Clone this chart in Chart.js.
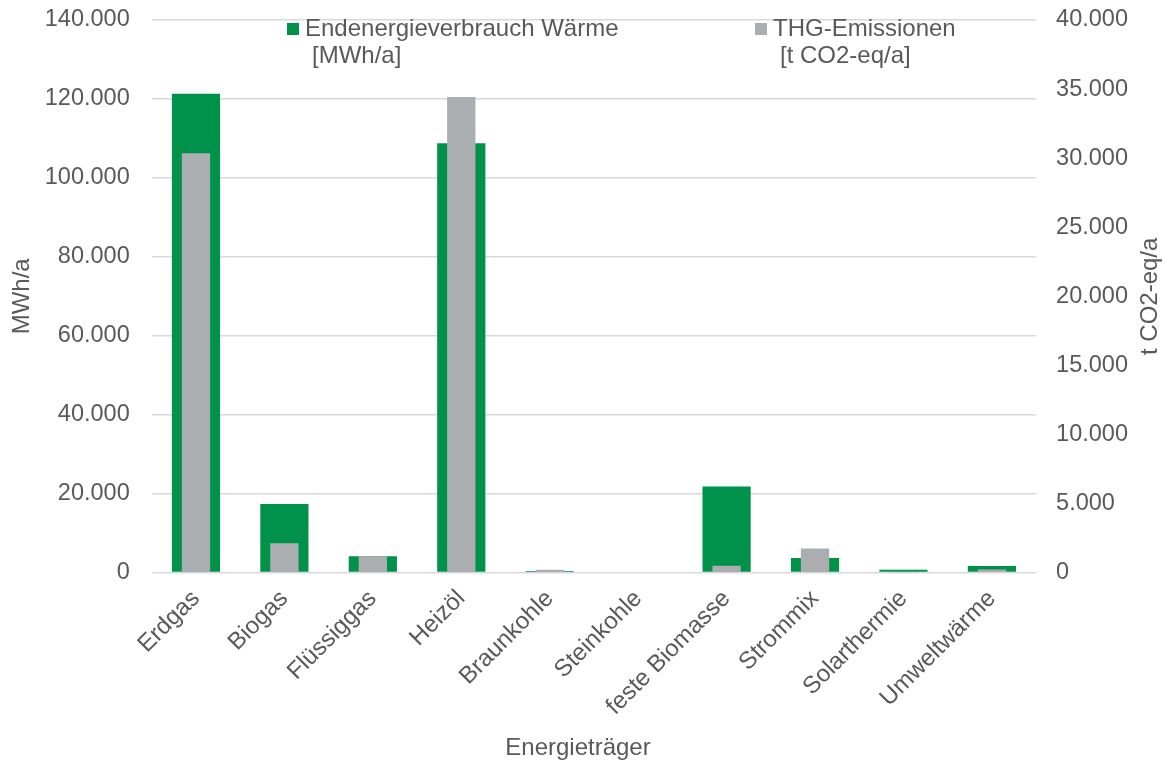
<!DOCTYPE html>
<html lang="de">
<head>
<meta charset="utf-8">
<title>Endenergieverbrauch Wärme und THG-Emissionen</title>
<script src="https://cdn.jsdelivr.net/npm/chart.js@4.4.1/dist/chart.umd.min.js"></script>
<style>
    html, body { margin: 0; padding: 0; background: #fff; }
    #wrap { width: 1169px; height: 762px; position: relative; }
</style>
</head>
<body>
<div id="wrap"><canvas id="chart"></canvas></div>
<script>
// Werte (links MWh/a, rechts t CO2-eq/a)
const categories = ['Erdgas', 'Biogas', 'Flüssiggas', 'Heizöl', 'Braunkohle', 'Steinkohle', 'feste Biomasse', 'Strommix', 'Solarthermie', 'Umweltwärme'];
const energyMWh = [121300, 17400, 4150, 108800, 400, 0, 21800, 3700, 750, 1700];
const emissionsT = [30350, 2120, 1180, 34420, 200, 0, 490, 1740, 10, 220];
const energyLegend = ['Endenergieverbrauch Wärme', '[MWh/a]'];
const emissionsLegend = ['THG-Emissionen', '[t CO2-eq/a]'];
const leftTicks = { max: 140000, step: 20000 };
const rightTicks = { max: 40000, step: 5000 };

const TEXT = '#595959';
const GRID = '#d9d9d9';
const GREEN = '#00914a';
const GREY = '#aaaeb1';
const FONT = 'Liberation Sans, Arial, sans-serif';

const fmt = (v) => Number(v).toLocaleString('de-DE');

// Chart.js reserves room for overhanging tick labels; Excel doesn't, so drop it.
const noOverhang = (scale) => {
    scale.paddingLeft = 0;
    scale.paddingRight = 0;
    scale.paddingTop = 0;
    scale.paddingBottom = 0;
};

// vertical scales count the tick padding twice in fit() - take one back
const tightY = (scale) => {
    noOverhang(scale);
    scale.width -= scale.options.ticks.padding;
};

// Legende wie in Excel: zwei Zeilen pro Eintrag, im Plotbereich oben.
// Dazu der rechte Achsentitel (von unten nach oben) und der x-Titel.
const excelExtras = {
    id: 'excelExtras',
    afterDraw(chart) {
        const ctx = chart.ctx;
        ctx.save();
        ctx.font = `24px ${FONT}`;
        ctx.fillStyle = TEXT;
        ctx.textBaseline = 'alphabetic';
        const items = [
            { x: 287, color: GREEN, lines: chart.data.datasets[0].legendLines },
            { x: 755, color: GREY, lines: chart.data.datasets[1].legendLines },
        ];
        items.forEach((it) => {
            ctx.fillStyle = it.color;
            ctx.fillRect(it.x, 23, 12, 12);
            ctx.fillStyle = TEXT;
            it.lines.forEach((line, i) => {
                ctx.fillText(line, it.x + 18 + (i ? 7 : 0), 36 + i * 27);
            });
        });

        ctx.textAlign = 'center';
        ctx.fillText('Energieträger', 578, 755);

        const area = chart.chartArea;
        ctx.translate(1162, (area.top + area.bottom) / 2);
        ctx.rotate(-Math.PI / 2);
        ctx.textBaseline = 'bottom';
        ctx.fillText('t CO2-eq/a', 0, 0);
        ctx.restore();
    },
};

new Chart(document.getElementById('chart'), {
    type: 'bar',
    data: {
        labels: categories,
        datasets: [
            {
                label: energyLegend.join(' '),
                legendLines: energyLegend,
                data: energyMWh,
                backgroundColor: GREEN,
                yAxisID: 'y',
                grouped: false,
                order: 2,
                categoryPercentage: 1,
                barPercentage: 0.545,
            },
            {
                label: emissionsLegend.join(' '),
                legendLines: emissionsLegend,
                data: emissionsT,
                backgroundColor: GREY,
                yAxisID: 'y1',
                grouped: false,
                order: 1,
                categoryPercentage: 1,
                barPercentage: 0.32,
            },
        ],
    },
    options: {
        responsive: true,
        maintainAspectRatio: false,
        animation: false,
        layout: { padding: { left: 8, right: 41, top: 20, bottom: 37 } },
        plugins: {
            legend: { display: false },
            tooltip: { enabled: false },
        },
        scales: {
            x: {
                afterFit: noOverhang,
                grid: { display: false },
                border: { display: false },
                ticks: {
                    color: TEXT,
                    font: { family: FONT, size: 24 },
                    minRotation: 45,
                    maxRotation: 45,
                    padding: 4,
                },
            },
            y: {
                position: 'left',
                min: 0,
                max: leftTicks.max,
                afterFit: tightY,
                border: { display: false },
                grid: { color: GRID, lineWidth: 1.5, drawTicks: false },
                ticks: {
                    stepSize: leftTicks.step,
                    color: TEXT,
                    font: { family: FONT, size: 23.5 },
                    padding: 22,
                    callback: (v) => fmt(v),
                },
                title: {
                    display: true,
                    text: 'MWh/a',
                    color: TEXT,
                    font: { family: FONT, size: 24 },
                    padding: { top: 0, bottom: 8 },
                },
            },
            y1: {
                position: 'right',
                min: 0,
                max: rightTicks.max,
                afterFit: tightY,
                border: { display: false },
                grid: { drawOnChartArea: false, drawTicks: false },
                ticks: {
                    stepSize: rightTicks.step,
                    color: TEXT,
                    font: { family: FONT, size: 23.5 },
                    padding: 20,
                    callback: (v) => fmt(v),
                },
            },
        },
    },
    plugins: [excelExtras],
});
</script>
</body>
</html>
